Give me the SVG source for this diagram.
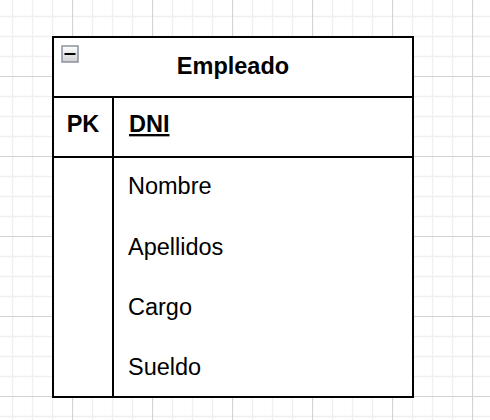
<svg xmlns="http://www.w3.org/2000/svg" width="490" height="420" viewBox="0 0 490 420">
  <defs>
    <pattern id="grid" x="-8" y="-4" width="80" height="80" patternUnits="userSpaceOnUse">
      <path d="M20.5 0V80M40.5 0V80M60.5 0V80M0 20.5H80M0 40.5H80M0 60.5H80" stroke="#efefef" stroke-width="1.3" fill="none"/>
      <path d="M0.5 0V80M0 0.5H80" stroke="#d3d3d3" stroke-width="1.2" fill="none"/>
    </pattern>
    <linearGradient id="btn" x1="0" y1="0" x2="0" y2="1">
      <stop offset="0" stop-color="#ffffff"/>
      <stop offset="1" stop-color="#cfd0d3"/>
    </linearGradient>
  </defs>
  <style>
    .frame { fill: none; stroke: #000; stroke-width: 2; }
    .t { font-family: "Liberation Sans", Arial, sans-serif; font-size: 23.5px; fill: #000; }
    .b { font-weight: bold; }
  </style>
  <rect width="490" height="420" fill="#fff"/>
  <rect width="490" height="420" fill="url(#grid)"/>
  <g id="empleado">
    <rect x="53" y="37" width="360" height="360" fill="#fff"/>
    <rect class="frame" x="53" y="37" width="360" height="360"/>
    <line class="frame" x1="53" y1="97" x2="413" y2="97"/>
    <line class="frame" x1="53" y1="157" x2="413" y2="157"/>
    <line class="frame" x1="113" y1="97" x2="113" y2="397"/>
    <g id="collapse">
      <rect x="62" y="46" width="16" height="16" fill="url(#btn)" stroke="#8a92a0" stroke-width="1.5"/>
      <line x1="64.5" y1="54" x2="75.5" y2="54" stroke="#000" stroke-width="2"/>
    </g>
    <text class="t b" x="233" y="74" text-anchor="middle">Empleado</text>
    <text class="t b" x="83" y="132" text-anchor="middle">PK</text>
    <text class="t b" x="129" y="132" text-decoration="underline">DNI</text>
    <text class="t" x="128" y="194">Nombre</text>
    <text class="t" x="128" y="254.5">Apellidos</text>
    <text class="t" x="128" y="315">Cargo</text>
    <text class="t" x="128" y="375">Sueldo</text>
  </g>
</svg>
